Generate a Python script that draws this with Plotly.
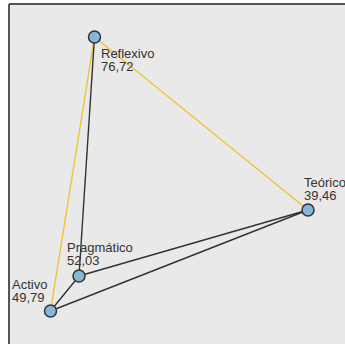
import plotly.graph_objects as go

# Nodes (layout coordinates) and their values
names = ["Reflexivo", "Teórico", "Pragmático", "Activo"]
values = ["76,72", "39,46", "52,03", "49,79"]
node_x = [94.5, 308, 79, 50.5]
node_y = [37, 210, 276, 311]

# Edges
black_src = ["Reflexivo", "Pragmático", "Pragmático", "Activo"]
black_dst = ["Pragmático", "Teórico", "Activo", "Teórico"]
yellow_src = ["Activo", "Reflexivo"]
yellow_dst = ["Reflexivo", "Teórico"]

pos = {n: (x, y) for n, x, y in zip(names, node_x, node_y)}


def edge_xy(src, dst):
    xs, ys = [], []
    for a, b in zip(src, dst):
        xs += [pos[a][0], pos[b][0], None]
        ys += [pos[a][1], pos[b][1], None]
    return xs, ys


fig = go.Figure()
yx, yy = edge_xy(yellow_src, yellow_dst)
fig.add_trace(go.Scatter(x=yx, y=yy, mode="lines",
                         line=dict(color="#f0c232", width=1.4),
                         hoverinfo="skip", showlegend=False))
bx, by = edge_xy(black_src, black_dst)
fig.add_trace(go.Scatter(x=bx, y=by, mode="lines",
                         line=dict(color="#333333", width=1.4),
                         hoverinfo="skip", showlegend=False))
fig.add_trace(go.Scatter(x=node_x, y=node_y, mode="markers",
                         marker=dict(size=12, color="#86b7d6",
                                     line=dict(color="#333333", width=1.5)),
                         hoverinfo="skip", showlegend=False))

# label offsets in pixels (dx of text left, baseline dy of first line)
offsets = {"Reflexivo": (5.5, 21), "Teórico": (-5, -23),
           "Pragmático": (-13, -24), "Activo": (-39.5, -22)}
font = dict(family="Liberation Sans, Arial, sans-serif", size=13, color="#333333")
for n, v in zip(names, values):
    dx, dy = offsets[n]
    for i, t in enumerate([n, v]):
        base = dy + i * 13
        fig.add_annotation(x=pos[n][0], y=pos[n][1], xref="x", yref="y",
                           text=t, showarrow=False, xanchor="left",
                           yanchor="middle", xshift=dx - 1,
                           yshift=-(base - 4.5), font=font, align="left")

fig.update_layout(
    width=345, height=344,
    margin=dict(l=9, r=0, t=4, b=0),
    paper_bgcolor="white", plot_bgcolor="#e9e9e9",
    xaxis=dict(range=[9, 345], visible=False, fixedrange=True),
    yaxis=dict(range=[344, 4], visible=False, fixedrange=True),
    shapes=[
        dict(type="line", xref="paper", yref="paper", x0=0, x1=0, y0=0, y1=1,
             line=dict(color="#555555", width=2)),
        dict(type="line", xref="paper", yref="paper", x0=0, x1=1, y0=1, y1=1,
             line=dict(color="#555555", width=2)),
    ],
)
fig.write_html("out.html", config={"displayModeBar": False},
               post_script="document.body.style.margin='0';")
